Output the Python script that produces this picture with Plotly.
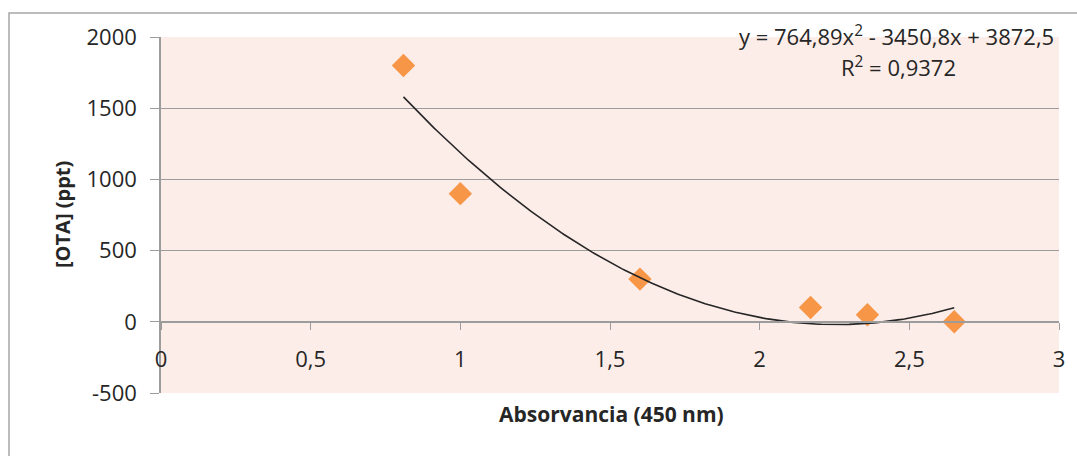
import numpy as np
import plotly.graph_objects as go

# Data
absorbance = [0.81, 1.0, 1.6, 2.17, 2.36, 2.65]
ota_ppt = [1800, 900, 300, 100, 50, 0]

# Polynomial trendline coefficients (as printed on the chart)
coef_a = 764.89
coef_b = -3450.8
coef_c = 3872.5
r_squared_text = "0,9372"

x_ticks = [0, 0.5, 1, 1.5, 2, 2.5, 3]
x_tick_labels = ["0", "0,5", "1", "1,5", "2", "2,5", "3"]
y_ticks = [-500, 0, 500, 1000, 1500, 2000]
y_tick_labels = ["-500", "0", "500", "1000", "1500", "2000"]

W, H = 1077, 456
L, R, T, B = 161, 18, 37, 63
PW, PH = W - L - R, H - T - B


def px(xp):
    return (xp - L) / PW


def py(yp):
    return (H - B - yp) / PH


xt = np.linspace(min(absorbance), max(absorbance), 200)
yt = coef_a * xt ** 2 + coef_b * xt + coef_c

FONT = "Open Sans"
GRID = "#9C9C9C"
TXT = "#262626"

fig = go.Figure()
fig.add_trace(go.Scatter(
    x=absorbance, y=ota_ppt, mode="markers",
    marker=dict(symbol="diamond", size=18, color="#F79646", line=dict(width=0)),
    showlegend=False, hoverinfo="skip"))
fig.add_trace(go.Scatter(
    x=xt, y=yt, mode="lines",
    line=dict(color="#262626", width=1.6),
    showlegend=False, hoverinfo="skip"))

fig.update_layout(
    width=W, height=H,
    margin=dict(l=L, r=R, t=T, b=B, pad=0),
    paper_bgcolor="white",
    plot_bgcolor="#FCEDE8",
    font=dict(family=FONT, color=TXT),
    xaxis=dict(
        range=[0, 3], tickvals=x_ticks, ticktext=x_tick_labels,
        anchor="free", position=0.2,
        showline=True, linecolor=GRID, linewidth=1.5,
        ticks="outside", ticklen=7, tickcolor=GRID, tickwidth=1.3,
        showgrid=False, zeroline=False,
        tickfont=dict(size=22, family=FONT, color=TXT),
        ticklabelstandoff=11,
    ),
    yaxis=dict(
        range=[-500, 2000], tickvals=y_ticks, ticktext=y_tick_labels,
        showgrid=True, gridcolor=GRID, gridwidth=1.3,
        showline=True, linecolor=GRID, linewidth=1.5,
        ticks="outside", ticklen=9, tickcolor=GRID, tickwidth=1.3,
        zeroline=False,
        tickfont=dict(size=22, family=FONT, color=TXT),
        ticklabelstandoff=9,
    ),
    annotations=[
        dict(text="y = 764,89x<sup>2</sup> - 3450,8x + 3872,5",
             xref="paper", yref="paper", x=px(896), y=py(36),
             xanchor="center", yanchor="middle", showarrow=False,
             font=dict(size=22, family=FONT, color=TXT)),
        dict(text="R<sup>2</sup> = " + r_squared_text,
             xref="paper", yref="paper", x=px(898), y=py(66),
             xanchor="center", yanchor="middle", showarrow=False,
             font=dict(size=22, family=FONT, color=TXT)),
        dict(text="<b>[OTA] (ppt)</b>", textangle=-90,
             xref="paper", yref="paper", x=px(62), y=py(215),
             xanchor="center", yanchor="middle", showarrow=False,
             font=dict(size=20, family=FONT, color=TXT)),
        dict(text="<b>Absorvancia (450 nm)</b>",
             xref="paper", yref="paper", x=px(611), y=py(414),
             xanchor="center", yanchor="middle", showarrow=False,
             font=dict(size=21, family=FONT, color=TXT)),
    ],
    shapes=[
        dict(type="rect", xref="paper", yref="paper",
             x0=px(9), x1=px(1085), y0=py(470), y1=py(13),
             line=dict(color="#A6A6A6", width=1.5), fillcolor="rgba(0,0,0,0)"),
    ],
)

fig.write_html("out.html")
